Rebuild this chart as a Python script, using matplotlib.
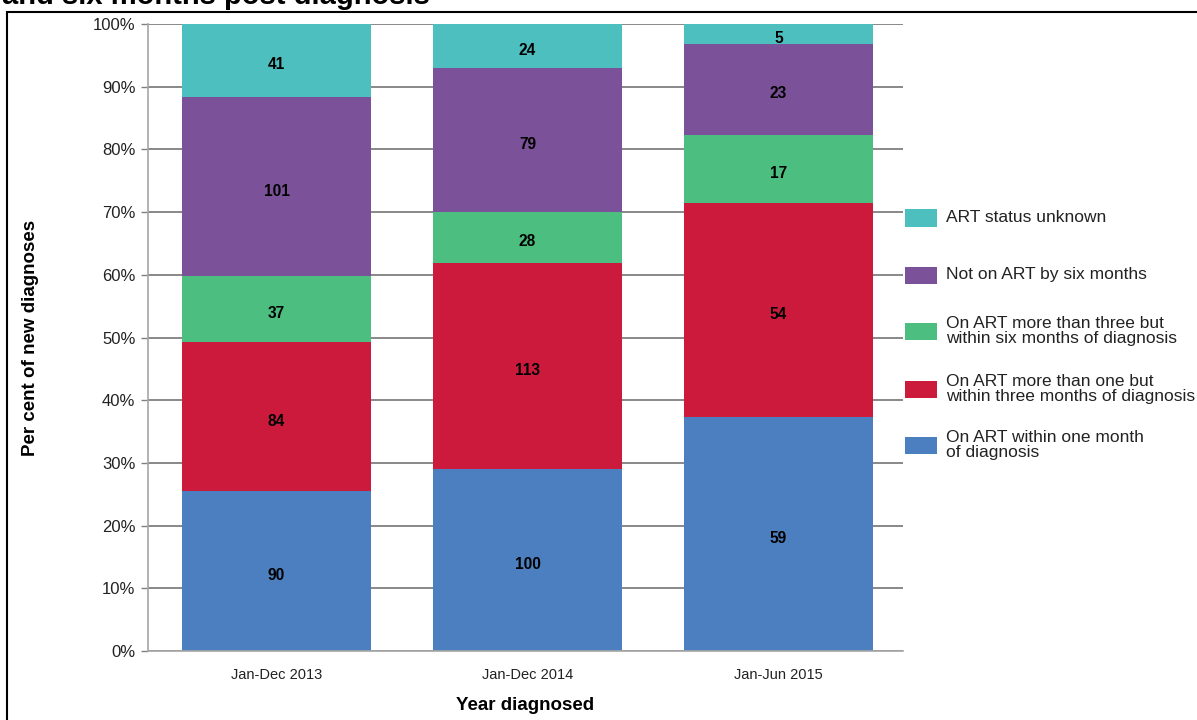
import matplotlib
matplotlib.use("Agg")
import matplotlib.pyplot as plt
from matplotlib.patches import Rectangle
from matplotlib.transforms import offset_copy
import numpy as np

plt.rcParams['font.family'] = ['Liberation Sans', 'DejaVu Sans']

categories = ["Jan-Dec 2013", "Jan-Dec 2014", "Jan-Jun 2015"]
series_names = [
    "On ART within one month\nof diagnosis",
    "On ART more than one but\nwithin three months of diagnosis",
    "On ART more than three but\nwithin six months of diagnosis",
    "Not on ART by six months",
    "ART status unknown",
]
within_one = [90, 100, 59]
one_to_three = [84, 113, 54]
three_to_six = [37, 28, 17]
not_on_art = [101, 79, 23]
unknown = [41, 24, 5]
colors = ["#4C7FBF", "#CC1A3C", "#4CBF80", "#7B5299", "#4DBFBF"]
yticks = [0, 10, 20, 30, 40, 50, 60, 70, 80, 90, 100]
ytick_labels = [f"{v}%" for v in yticks]

counts = np.array([within_one, one_to_three, three_to_six, not_on_art, unknown], dtype=float)
totals = counts.sum(axis=0)
pct = counts / totals * 100

W, H = 1197, 720
fig = plt.figure(figsize=(W / 100, H / 100), dpi=100)
ax = fig.add_axes([148 / W, 1 - 651 / H, (903 - 148) / W, (651 - 24) / H])
label_tr = offset_copy(ax.transData, fig=fig, y=-3, units="dots")

x = np.arange(len(categories))
bottom = np.zeros(len(categories))
for i in range(len(series_names)):
    ax.bar(x, pct[i], bottom=bottom, width=0.753, color=colors[i], linewidth=0, zorder=2)
    for j in range(len(categories)):
        ax.text(x[j], bottom[j] + pct[i][j] / 2, f"{int(counts[i][j])}", ha="center",
                va="center_baseline", fontsize=11.2, fontweight="bold", color="black",
                zorder=3, transform=label_tr)
    bottom += pct[i]

ax.set_xlim(-0.512, 2.496)
ax.set_ylim(0, 100)
ax.set_yticks(yticks)
ax.set_yticklabels(ytick_labels, fontsize=12, color="#222222")
ax.set_xticks(x)
ax.set_xticklabels(categories, fontsize=10.5, color="#222222")
ax.tick_params(axis="x", length=0, pad=12)
ax.tick_params(axis="y", length=5, width=1, color="#808080", pad=4)
ax.yaxis.grid(True, color="#7F7F7F", linewidth=1.3, zorder=1)
ax.set_axisbelow(True)
for s in ["top", "right"]:
    ax.spines[s].set_visible(False)
ax.spines["left"].set_color("#A6A6A6")
ax.spines["bottom"].set_color("#A6A6A6")
ax.spines["left"].set_linewidth(1.2)
ax.spines["bottom"].set_linewidth(1.2)

ax.set_xlabel("Year diagnosed", fontsize=13.5, fontweight="bold")
ax.set_ylabel("Per cent of new diagnoses", fontsize=13.5, fontweight="bold")
ax.yaxis.set_label_coords(-(148 - 39) / (903 - 148), 0.5)
ax.xaxis.set_label_coords(0.5, -(697 - 651) / (651 - 24))

# legend (top to bottom)
leg_centers = [218, 275, 331, 389, 445]
for k, idx in enumerate(range(len(series_names) - 1, -1, -1)):
    yc = leg_centers[k]
    fig.add_artist(Rectangle((905 / W, 1 - (yc + 8.5) / H), 32 / W, 17 / H,
                             transform=fig.transFigure, facecolor=colors[idx], edgecolor="none"))
    fig.text(946 / W, 1 - yc / H, series_names[idx], ha="left", va="center",
             fontsize=12.5, color="#222222", linespacing=1.02)

# frame
fig.add_artist(Rectangle((7 / W, -0.05), 1.0, 1 - 12 / H + 0.05, transform=fig.transFigure,
                         facecolor="none", edgecolor="black", linewidth=1.5, zorder=0))
fig.text(2 / W, 1 - 4 / H, "and six months post diagnosis", ha="left", va="baseline",
         fontsize=21, fontweight="bold", color="black")

fig.savefig("out.png", dpi=100)
